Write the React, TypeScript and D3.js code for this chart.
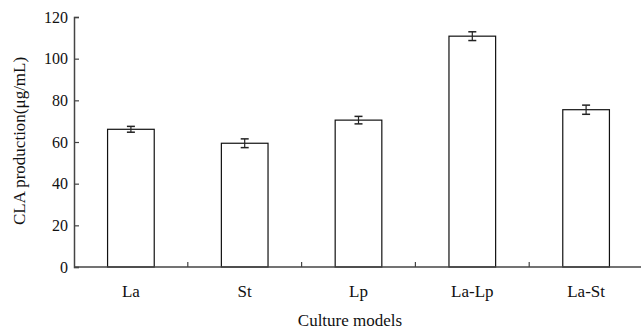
import { useEffect, useRef } from 'react';
import * as d3 from 'd3';

const categories = ['La', 'St', 'Lp', 'La-Lp', 'La-St'];
const values = [66.1, 59.4, 70.5, 110.8, 75.5];
const errors = [1.4, 2.1, 1.8, 2.1, 2.2];
const yTicks = [0, 20, 40, 60, 80, 100, 120];

export default function App() {
  const svgRef = useRef<SVGSVGElement>(null);

  useEffect(() => {
    if (!svgRef.current) return;
    const width = 641;
    const height = 330;
    const margin = { top: 17, right: 0, bottom: 63, left: 74 };
    const font = '"Liberation Serif", "Times New Roman", serif';

    const svg = d3.select(svgRef.current);
    svg.selectAll('*').remove();
    svg.attr('width', width).attr('height', height);

    const innerW = width - margin.left - margin.right;
    const innerH = height - margin.top - margin.bottom;
    const g = svg.append('g').attr('transform', `translate(${margin.left},${margin.top})`);

    const x = d3.scaleBand().domain(categories).range([0, innerW + 2]).paddingInner(0.59).paddingOuter(0.295);
    const y = d3.scaleLinear().domain([0, 120]).range([innerH, 0]);

    // Bars
    g.selectAll('rect.bar')
      .data(values)
      .join('rect')
      .attr('class', 'bar')
      .attr('x', (_, i) => x(categories[i])!)
      .attr('y', (d) => y(d))
      .attr('width', x.bandwidth())
      .attr('height', (d) => innerH - y(d))
      .attr('fill', 'white')
      .attr('stroke', '#111')
      .attr('stroke-width', 1.2);

    // Error bars
    const capW = 8;
    values.forEach((v, i) => {
      const cx = x(categories[i])! + x.bandwidth() / 2;
      const e = errors[i];
      g.append('line')
        .attr('x1', cx).attr('x2', cx)
        .attr('y1', y(v + e)).attr('y2', y(v - e))
        .attr('stroke', '#222').attr('stroke-width', 1.2);
      [v + e, v - e].forEach((yy) => {
        g.append('line')
          .attr('x1', cx - capW / 2).attr('x2', cx + capW / 2)
          .attr('y1', y(yy)).attr('y2', y(yy))
          .attr('stroke', '#222').attr('stroke-width', 1.5);
      });
    });

    // Y axis
    const yAxis = d3.axisLeft(y).tickValues(yTicks).tickSize(-5).tickPadding(6).tickFormat((d) => `${d}`);
    const ya = g.append('g').call(yAxis);
    ya.select('.domain').attr('stroke', '#444').attr('stroke-width', 1.5);
    ya.selectAll('.tick line').attr('stroke', '#444').attr('stroke-width', 1.2);
    ya.selectAll('.tick text')
      .attr('font-family', font)
      .attr('font-size', 16)
      .attr('fill', '#111')
      .attr('x', -6);

    // X axis
    g.append('line')
      .attr('x1', 0).attr('x2', innerW)
      .attr('y1', innerH).attr('y2', innerH)
      .attr('stroke', '#444').attr('stroke-width', 1.5);
    const step = x.step();
    categories.slice(1).forEach((c) => {
      const tx = x(c)! - (step - x.bandwidth()) / 2;
      g.append('line')
        .attr('x1', tx).attr('x2', tx)
        .attr('y1', innerH).attr('y2', innerH - 5)
        .attr('stroke', '#444').attr('stroke-width', 1.2);
    });
    categories.forEach((c) => {
      g.append('text')
        .attr('x', x(c)! + x.bandwidth() / 2)
        .attr('y', innerH + 30)
        .attr('text-anchor', 'middle')
        .attr('font-family', font)
        .attr('font-size', 17)
        .attr('fill', '#111')
        .text(c);
    });

    // Axis titles
    svg.append('text')
      .attr('x', 350)
      .attr('y', 326)
      .attr('text-anchor', 'middle')
      .attr('font-family', font)
      .attr('font-size', 17)
      .attr('fill', '#111')
      .text('Culture models');

    svg.append('text')
      .attr('transform', `translate(25,141) rotate(-90)`)
      .attr('text-anchor', 'middle')
      .attr('font-family', font)
      .attr('font-size', 17)
      .attr('fill', '#111')
      .text('CLA production(μg/mL)');
  }, []);

  return (
    <div style={{ position: 'fixed', left: 0, top: 0, background: 'white' }}>
      <svg ref={svgRef} style={{ display: 'block' }} />
    </div>
  );
}
